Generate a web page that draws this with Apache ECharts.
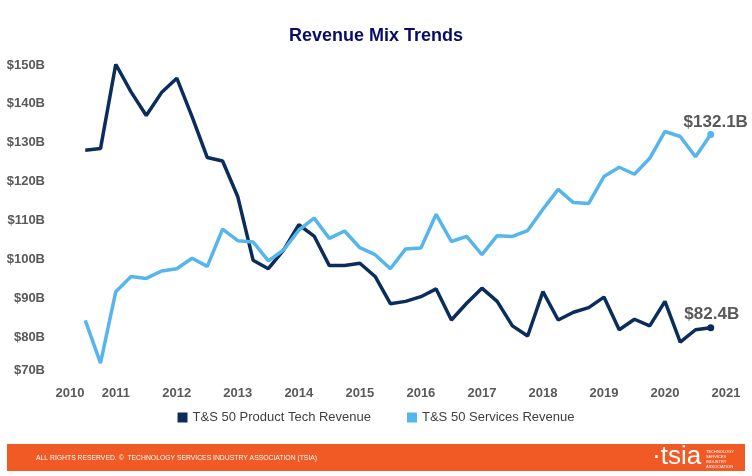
<!DOCTYPE html>
<html>
<head>
<meta charset="utf-8">
<script src="https://cdn.jsdelivr.net/npm/echarts@6/dist/echarts.min.js"></script>
<style>html,body{margin:0;padding:0;background:#fff;}#c{width:752px;height:476px;}</style>
</head>
<body>
<div id="c"></div>
<script>
const quarters = ['2010 Q2','2010 Q3','2010 Q4','2011 Q1','2011 Q2','2011 Q3','2011 Q4','2012 Q1','2012 Q2','2012 Q3','2012 Q4',
 '2013 Q1','2013 Q2','2013 Q3','2013 Q4','2014 Q1','2014 Q2','2014 Q3','2014 Q4','2015 Q1','2015 Q2','2015 Q3','2015 Q4',
 '2016 Q1','2016 Q2','2016 Q3','2016 Q4','2017 Q1','2017 Q2','2017 Q3','2017 Q4','2018 Q1','2018 Q2','2018 Q3','2018 Q4',
 '2019 Q1','2019 Q2','2019 Q3','2019 Q4','2020 Q1','2020 Q2','2020 Q3','2020 Q4','2021 Q1'];
const productTech = [128.1,128.5,150.2,143.1,137.0,142.9,146.6,136.7,126.2,125.3,116.1,99.8,97.6,102.4,108.9,106.0,98.4,98.4,99.0,95.6,88.6,89.2,90.4,92.4,84.4,88.7,92.6,89.2,82.9,80.3,91.7,84.4,86.4,87.6,90.3,81.9,84.6,82.9,89.2,78.7,81.9,82.4];
const services = [84.3,73.3,91.7,95.6,95.1,97.0,97.6,100.3,98.2,107.8,104.8,104.5,99.6,102.4,107.5,110.6,105.4,107.3,103.0,101.2,97.6,102.7,102.9,111.6,104.6,105.9,101.2,106.1,105.9,107.4,112.9,118.0,114.6,114.4,121.3,123.7,121.9,126.0,132.9,131.6,126.4,132.1];
const yTicks = [70,80,90,100,110,120,130,140,150];
const seriesNames = ['T&S 50 Product Tech Revenue','T&S 50 Services Revenue'];

const padded = arr => [null].concat(arr, [null]);
const lastIdx = productTech.length;

const chart = echarts.init(document.getElementById('c'));
const labelStyle = {fontFamily:'Liberation Sans, Arial, sans-serif', fontWeight:'bold', fontSize:17, color:'#595959'};
function mkSeries(name, vals, color, offset, dist) {
  return {
    name, type:'line', data: padded(vals), connectNulls:false,
    lineStyle:{color, width:3.5}, itemStyle:{color},
    symbol:'circle', showSymbol:true,
    symbolSize:(v, p) => p.dataIndex === lastIdx ? 7 : 0,
    label:{show:true, position:'top', distance:dist, offset, ...labelStyle,
      formatter:p => p.dataIndex === lastIdx ? '$' + p.value.toFixed(1) + 'B' : ''},
    emphasis:{disabled:true}, animation:false, z:3
  };
}
chart.setOption({
  animation:false,
  backgroundColor:'#fff',
  title:{text:'Revenue Mix Trends', left:'center', top:22,
    textStyle:{fontFamily:'Liberation Sans, Arial, sans-serif', fontWeight:'bold', fontSize:18, color:'#0a0a6a'}},
  legend:{data:seriesNames, top:406, left:'center', icon:'rect', itemWidth:10, itemHeight:10, itemGap:36,
    textStyle:{fontFamily:'Liberation Sans, Arial, sans-serif', fontSize:13, color:'#404040'}},
  grid:{left:70, right:26, top:65, bottom:100, containLabel:false},
  xAxis:{type:'category', data:quarters, boundaryGap:false,
    axisLine:{show:false}, axisTick:{show:false}, splitLine:{show:false},
    axisLabel:{interval:0, margin:11, fontFamily:'Liberation Sans, Arial, sans-serif', fontWeight:'bold', fontSize:13, color:'#595959',
      formatter:(v, i) => (i === 0 || v.endsWith('Q1')) ? v.slice(0,4) : ''}},
  yAxis:{type:'value', min:yTicks[0], max:yTicks[yTicks.length-1], interval:10,
    axisLine:{show:false}, axisTick:{show:false}, splitLine:{show:false},
    axisLabel:{margin:25, fontFamily:'Liberation Sans, Arial, sans-serif', fontWeight:'bold', fontSize:13, color:'#595959',
      formatter:v => v === yTicks[0] ? '{low|$' + v + 'B}' : '$' + v + 'B',
      rich:{low:{fontFamily:'Liberation Sans, Arial, sans-serif', fontWeight:'bold', fontSize:13, color:'#595959', padding:[0,0,12,0]}}}},
  series:[
    mkSeries(seriesNames[0], productTech, '#0b2d5b', [1,0], 1),
    mkSeries(seriesNames[1], services, '#56b5eb', [5,0], 0)
  ],
  graphic:[
    {type:'rect', shape:{x:7, y:444, width:738, height:27}, style:{fill:'#f15a24'}, silent:true},
    {type:'text', x:36, y:458, scaleX:0.85, style:{text:'ALL RIGHTS RESERVED. \u00A9  TECHNOLOGY SERVICES INDUSTRY ASSOCIATION (TSIA)', fill:'#fff',
      font:'8px "Liberation Sans Narrow", "Liberation Sans", Arial, sans-serif', textVerticalAlign:'middle'}},
    {type:'text', x:652, y:457, style:{text:'\u00B7tsia', fill:'#fff', font:'26px "Liberation Sans", Arial, sans-serif', textVerticalAlign:'middle'}},
    {type:'text', x:706, y:449, style:{text:'TECHNOLOGY\nSERVICES\nINDUSTRY\nASSOCIATION', fill:'#fff', lineHeight:5,
      font:'4px "Liberation Sans", Arial, sans-serif', textVerticalAlign:'top'}}
  ]
});
</script>
</body>
</html>
